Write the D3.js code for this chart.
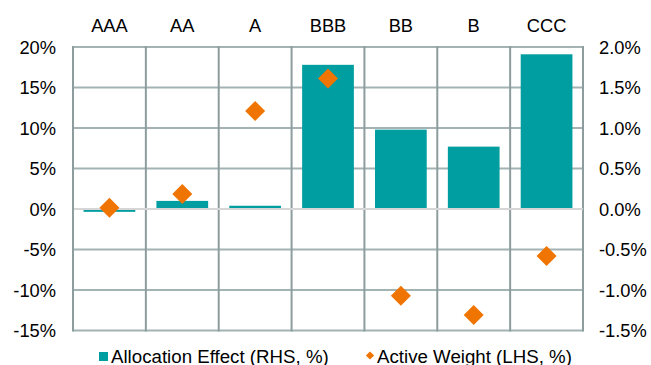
<!DOCTYPE html>
<html><head><meta charset="utf-8">
<script src="https://cdn.jsdelivr.net/npm/d3@7"></script>
<style>body{margin:0;background:#fff}svg{display:block;font-family:"Liberation Sans",Arial,sans-serif}</style>
</head><body><svg id="c" width="651" height="365"></svg>
<script>
const categories = ["AAA","AA","A","BBB","BB","B","CCC"];
const allocationEffect = [-0.035, 0.1, 0.04, 1.78, 0.98, 0.77, 1.91]; // RHS, %
const activeWeight = [0.15, 1.85, 12.1, 16.1, -10.7, -13.1, -5.8];   // LHS, %
const leftTicks = [-15,-10,-5,0,5,10,15,20];
const rightTicks = [-1.5,-1.0,-0.5,0.0,0.5,1.0,1.5,2.0];

const svg = d3.select("#c");
const L = 73, R = 583, T = 47, B = 330.5;
const x = d3.scaleBand().domain(categories).range([L,R]).paddingInner(0.29).paddingOuter(0.145);
const xc = d3.scaleBand().domain(categories).range([L,R]);
const yL = d3.scaleLinear().domain([-15,20]).range([B,T]);
const yR = d3.scaleLinear().domain([-1.5,2.0]).range([B,T]);
const teal = "#009ea0", orange = "#f07400";

// horizontal gridlines
svg.append("g").selectAll("line").data(leftTicks.filter(d=>d!==0)).join("line")
  .attr("x1",L).attr("x2",R).attr("y1",d=>yL(d)).attr("y2",d=>yL(d))
  .attr("stroke","#a3b2b3").attr("stroke-width",2);
// vertical gridlines
const vx = categories.map(c=>xc(c)).concat([R]);
svg.append("g").selectAll("line").data(vx).join("line")
  .attr("x1",d=>d).attr("x2",d=>d).attr("y1",T-1).attr("y2",B+1)
  .attr("stroke","#8d9d9e").attr("stroke-width",2);

// bars
svg.append("g").selectAll("rect").data(categories).join("rect")
  .attr("x",c=>x(c)).attr("width",x.bandwidth())
  .attr("y",(c,i)=>Math.min(yR(allocationEffect[i]),yR(0)))
  .attr("height",(c,i)=>Math.max(Math.abs(yR(allocationEffect[i])-yR(0)),2))
  .attr("fill",teal);

// zero line
svg.append("line").attr("x1",L+1).attr("x2",R).attr("y1",yL(0)).attr("y2",yL(0))
  .attr("stroke","#d6d6d6").attr("stroke-width",2);

// diamonds
const dsym = d3.symbol().type(d3.symbolSquare).size(200);
svg.append("g").selectAll("path").data(categories).join("path")
  .attr("d",dsym)
  .attr("transform",(c,i)=>`translate(${xc(c)+xc.bandwidth()/2},${yL(activeWeight[i])}) rotate(45)`)
  .attr("fill",orange);

// category labels on top
svg.append("g").selectAll("text").data(categories).join("text")
  .attr("x",c=>xc(c)+xc.bandwidth()/2).attr("y",32)
  .attr("text-anchor","middle").attr("font-size",18.3).attr("fill","#000").text(d=>d);

// left axis labels
svg.append("g").selectAll("text").data(leftTicks).join("text")
  .attr("x",56).attr("y",d=>yL(d)+6.5).attr("text-anchor","end")
  .attr("font-size",18.3).attr("fill","#000").text(d=>d+"%");
// right axis labels
svg.append("g").selectAll("text").data(rightTicks).join("text")
  .attr("x",599).attr("y",d=>yR(d)+6.5).attr("text-anchor","start")
  .attr("font-size",18.3).attr("fill","#000").text(d=>d.toFixed(1)+"%");

// legend
const lg = svg.append("g");
lg.append("rect").attr("x",99).attr("y",352).attr("width",9).attr("height",9).attr("fill",teal);
lg.append("text").attr("x",111).attr("y",362.5).attr("font-size",18.7).text("Allocation Effect (RHS, %)");
lg.append("path").attr("d",d3.symbol().type(d3.symbolSquare).size(34))
  .attr("transform","translate(370,355.5) rotate(45)").attr("fill",orange);
lg.append("text").attr("x",377).attr("y",362.5).attr("font-size",18.7).text("Active Weight (LHS, %)");
</script></body></html>
